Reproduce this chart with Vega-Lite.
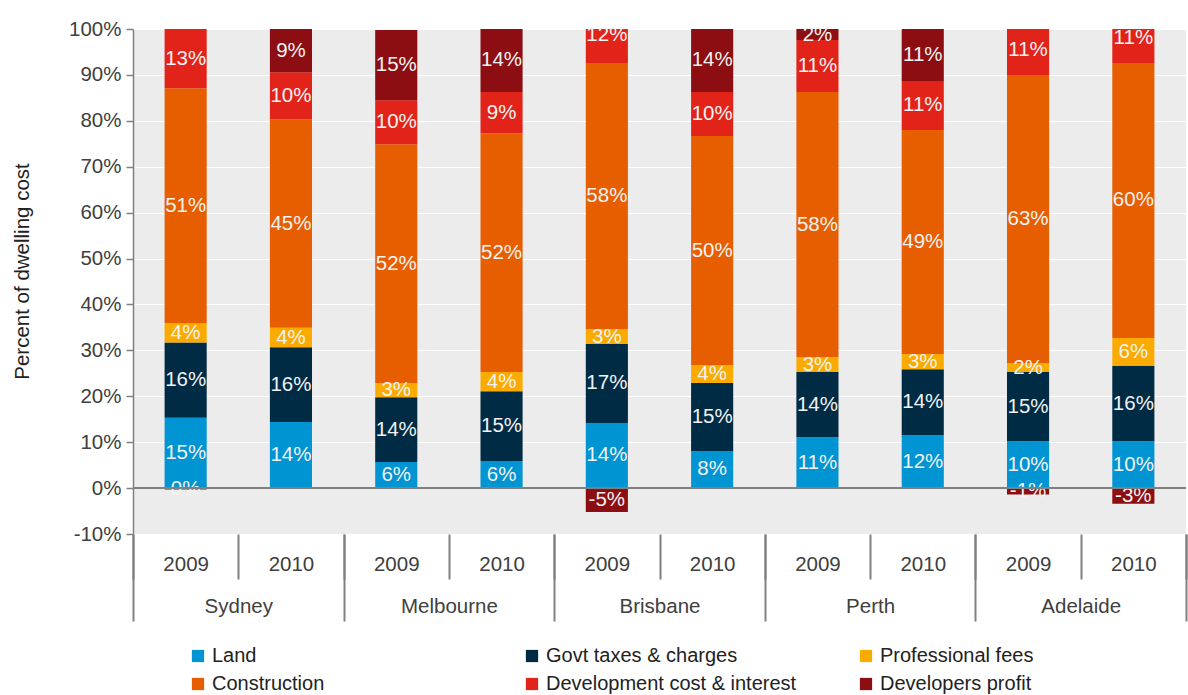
{
  "$schema": "https://vega.github.io/schema/vega-lite/v6.json",
  "width": 1053,
  "height": 505,
  "autosize": "none",
  "padding": {"left": 133, "top": 29, "right": 2, "bottom": 161},
  "background": "white",
  "config": {
    "font": "Liberation Sans",
    "view": {"fill": "#ececec", "stroke": null},
    "axis": {"labelFont": "Liberation Sans", "titleFont": "Liberation Sans"}
  },
  "data": {
    "values": [
      {"city": "Sydney", "year": "2009", "key": "Sydney 2009", "cat": "Land", "ord": 1, "value": 15.3},
      {"city": "Sydney", "year": "2009", "key": "Sydney 2009", "cat": "Govt taxes & charges", "ord": 2, "value": 16.4},
      {"city": "Sydney", "year": "2009", "key": "Sydney 2009", "cat": "Professional fees", "ord": 3, "value": 4.2},
      {"city": "Sydney", "year": "2009", "key": "Sydney 2009", "cat": "Construction", "ord": 4, "value": 51.2},
      {"city": "Sydney", "year": "2009", "key": "Sydney 2009", "cat": "Development cost & interest", "ord": 5, "value": 12.9},
      {"city": "Sydney", "year": "2009", "key": "Sydney 2009", "cat": "Developers profit", "ord": 6, "value": -0.3},
      {"city": "Sydney", "year": "2010", "key": "Sydney 2010", "cat": "Land", "ord": 1, "value": 14.4},
      {"city": "Sydney", "year": "2010", "key": "Sydney 2010", "cat": "Govt taxes & charges", "ord": 2, "value": 16.3},
      {"city": "Sydney", "year": "2010", "key": "Sydney 2010", "cat": "Professional fees", "ord": 3, "value": 4.2},
      {"city": "Sydney", "year": "2010", "key": "Sydney 2010", "cat": "Construction", "ord": 4, "value": 45.4},
      {"city": "Sydney", "year": "2010", "key": "Sydney 2010", "cat": "Development cost & interest", "ord": 5, "value": 10.3},
      {"city": "Sydney", "year": "2010", "key": "Sydney 2010", "cat": "Developers profit", "ord": 6, "value": 9.4},
      {"city": "Melbourne", "year": "2009", "key": "Melbourne 2009", "cat": "Land", "ord": 1, "value": 5.7},
      {"city": "Melbourne", "year": "2009", "key": "Melbourne 2009", "cat": "Govt taxes & charges", "ord": 2, "value": 14.1},
      {"city": "Melbourne", "year": "2009", "key": "Melbourne 2009", "cat": "Professional fees", "ord": 3, "value": 3.1},
      {"city": "Melbourne", "year": "2009", "key": "Melbourne 2009", "cat": "Construction", "ord": 4, "value": 52.0},
      {"city": "Melbourne", "year": "2009", "key": "Melbourne 2009", "cat": "Development cost & interest", "ord": 5, "value": 9.6},
      {"city": "Melbourne", "year": "2009", "key": "Melbourne 2009", "cat": "Developers profit", "ord": 6, "value": 15.3},
      {"city": "Melbourne", "year": "2010", "key": "Melbourne 2010", "cat": "Land", "ord": 1, "value": 5.9},
      {"city": "Melbourne", "year": "2010", "key": "Melbourne 2010", "cat": "Govt taxes & charges", "ord": 2, "value": 15.2},
      {"city": "Melbourne", "year": "2010", "key": "Melbourne 2010", "cat": "Professional fees", "ord": 3, "value": 4.2},
      {"city": "Melbourne", "year": "2010", "key": "Melbourne 2010", "cat": "Construction", "ord": 4, "value": 52.0},
      {"city": "Melbourne", "year": "2010", "key": "Melbourne 2010", "cat": "Development cost & interest", "ord": 5, "value": 9.0},
      {"city": "Melbourne", "year": "2010", "key": "Melbourne 2010", "cat": "Developers profit", "ord": 6, "value": 13.7},
      {"city": "Brisbane", "year": "2009", "key": "Brisbane 2009", "cat": "Land", "ord": 1, "value": 14.2},
      {"city": "Brisbane", "year": "2009", "key": "Brisbane 2009", "cat": "Govt taxes & charges", "ord": 2, "value": 17.2},
      {"city": "Brisbane", "year": "2009", "key": "Brisbane 2009", "cat": "Professional fees", "ord": 3, "value": 3.2},
      {"city": "Brisbane", "year": "2009", "key": "Brisbane 2009", "cat": "Construction", "ord": 4, "value": 58.0},
      {"city": "Brisbane", "year": "2009", "key": "Brisbane 2009", "cat": "Development cost & interest", "ord": 5, "value": 12.0},
      {"city": "Brisbane", "year": "2009", "key": "Brisbane 2009", "cat": "Developers profit", "ord": 6, "value": -5.2},
      {"city": "Brisbane", "year": "2010", "key": "Brisbane 2010", "cat": "Land", "ord": 1, "value": 8.1},
      {"city": "Brisbane", "year": "2010", "key": "Brisbane 2010", "cat": "Govt taxes & charges", "ord": 2, "value": 14.8},
      {"city": "Brisbane", "year": "2010", "key": "Brisbane 2010", "cat": "Professional fees", "ord": 3, "value": 3.9},
      {"city": "Brisbane", "year": "2010", "key": "Brisbane 2010", "cat": "Construction", "ord": 4, "value": 49.9},
      {"city": "Brisbane", "year": "2010", "key": "Brisbane 2010", "cat": "Development cost & interest", "ord": 5, "value": 9.6},
      {"city": "Brisbane", "year": "2010", "key": "Brisbane 2010", "cat": "Developers profit", "ord": 6, "value": 13.7},
      {"city": "Perth", "year": "2009", "key": "Perth 2009", "cat": "Land", "ord": 1, "value": 11.1},
      {"city": "Perth", "year": "2009", "key": "Perth 2009", "cat": "Govt taxes & charges", "ord": 2, "value": 14.2},
      {"city": "Perth", "year": "2009", "key": "Perth 2009", "cat": "Professional fees", "ord": 3, "value": 3.2},
      {"city": "Perth", "year": "2009", "key": "Perth 2009", "cat": "Construction", "ord": 4, "value": 57.8},
      {"city": "Perth", "year": "2009", "key": "Perth 2009", "cat": "Development cost & interest", "ord": 5, "value": 11.3},
      {"city": "Perth", "year": "2009", "key": "Perth 2009", "cat": "Developers profit", "ord": 6, "value": 2.4},
      {"city": "Perth", "year": "2010", "key": "Perth 2010", "cat": "Land", "ord": 1, "value": 11.5},
      {"city": "Perth", "year": "2010", "key": "Perth 2010", "cat": "Govt taxes & charges", "ord": 2, "value": 14.4},
      {"city": "Perth", "year": "2010", "key": "Perth 2010", "cat": "Professional fees", "ord": 3, "value": 3.3},
      {"city": "Perth", "year": "2010", "key": "Perth 2010", "cat": "Construction", "ord": 4, "value": 48.8},
      {"city": "Perth", "year": "2010", "key": "Perth 2010", "cat": "Development cost & interest", "ord": 5, "value": 10.7},
      {"city": "Perth", "year": "2010", "key": "Perth 2010", "cat": "Developers profit", "ord": 6, "value": 11.3},
      {"city": "Adelaide", "year": "2009", "key": "Adelaide 2009", "cat": "Land", "ord": 1, "value": 10.2},
      {"city": "Adelaide", "year": "2009", "key": "Adelaide 2009", "cat": "Govt taxes & charges", "ord": 2, "value": 15.1},
      {"city": "Adelaide", "year": "2009", "key": "Adelaide 2009", "cat": "Professional fees", "ord": 3, "value": 1.9},
      {"city": "Adelaide", "year": "2009", "key": "Adelaide 2009", "cat": "Construction", "ord": 4, "value": 62.8},
      {"city": "Adelaide", "year": "2009", "key": "Adelaide 2009", "cat": "Development cost & interest", "ord": 5, "value": 11.0},
      {"city": "Adelaide", "year": "2009", "key": "Adelaide 2009", "cat": "Developers profit", "ord": 6, "value": -1.4},
      {"city": "Adelaide", "year": "2010", "key": "Adelaide 2010", "cat": "Land", "ord": 1, "value": 10.2},
      {"city": "Adelaide", "year": "2010", "key": "Adelaide 2010", "cat": "Govt taxes & charges", "ord": 2, "value": 16.4},
      {"city": "Adelaide", "year": "2010", "key": "Adelaide 2010", "cat": "Professional fees", "ord": 3, "value": 6.1},
      {"city": "Adelaide", "year": "2010", "key": "Adelaide 2010", "cat": "Construction", "ord": 4, "value": 59.9},
      {"city": "Adelaide", "year": "2010", "key": "Adelaide 2010", "cat": "Development cost & interest", "ord": 5, "value": 11.0},
      {"city": "Adelaide", "year": "2010", "key": "Adelaide 2010", "cat": "Developers profit", "ord": 6, "value": -3.4}
    ]
  },
  "layer": [
    {
      "mark": {"type": "bar", "clip": true},
      "encoding": {
        "x": {
          "field": "key", "type": "nominal",
          "sort": ["Sydney 2009", "Sydney 2010", "Melbourne 2009", "Melbourne 2010", "Brisbane 2009", "Brisbane 2010", "Perth 2009", "Perth 2010", "Adelaide 2009", "Adelaide 2010"],
          "scale": {"type": "band", "paddingInner": 0.6, "paddingOuter": 0.3},
          "axis": null
        },
        "y": {
          "field": "value", "type": "quantitative", "stack": "zero",
          "scale": {"domain": [-10, 100], "nice": false, "zero": false},
          "axis": {
            "values": [-10, 0, 10, 20, 30, 40, 50, 60, 70, 80, 90, 100],
            "labelExpr": "datum.value + '%'",
            "title": "Percent of dwelling cost",
            "titleFontSize": 20.5, "titleFontWeight": "normal", "titleColor": "#222222", "titlePadding": 36, "titleY": 242,
            "labelFontSize": 20.5, "labelColor": "#404040", "labelPadding": 5,
            "domainColor": "#808080", "domainWidth": 1.5,
            "tickColor": "#808080", "tickSize": 7, "tickWidth": 1.5,
            "gridColor": "#ffffff", "gridWidth": 1.2
          }
        },
        "color": {
          "field": "cat", "type": "nominal",
          "scale": {
            "domain": ["Land", "Govt taxes & charges", "Professional fees", "Construction", "Development cost & interest", "Developers profit"],
            "range": ["#0094d3", "#002b45", "#fbab00", "#e75e00", "#e2231a", "#8c0e12"]
          },
          "legend": {
            "orient": "none", "legendX": 55, "legendY": 617, "direction": "horizontal", "columns": 3,
            "title": null, "symbolType": "square", "symbolSize": 150, "symbolStrokeWidth": 0,
            "labelFontSize": 20, "labelColor": "#222222", "labelFont": "Liberation Sans",
            "gridAlign": "all", "columnPadding": 59, "rowPadding": 8, "labelOffset": 4, "labelLimit": 400
          }
        },
        "order": {"field": "ord", "type": "quantitative"}
      }
    },
    {
      "mark": {"type": "text", "fontSize": 20.5, "color": "#f2f2f2", "baseline": "middle", "font": "Liberation Sans"},
      "encoding": {
        "x": {
          "field": "key", "type": "nominal",
          "sort": ["Sydney 2009", "Sydney 2010", "Melbourne 2009", "Melbourne 2010", "Brisbane 2009", "Brisbane 2010", "Perth 2009", "Perth 2010", "Adelaide 2009", "Adelaide 2010"],
          "scale": {"type": "point", "padding": 0.5},
          "axis": null
        },
        "y": {"field": "value", "type": "quantitative", "stack": "zero", "bandPosition": 0.5},
        "detail": {"field": "cat"},
        "order": {"field": "ord", "type": "quantitative"},
        "text": {"value": {"expr": "round(datum.value) + '%'"}}
      }
    },
    {
      "mark": {"type": "rule", "color": "#808080", "strokeWidth": 1.5},
      "encoding": {"y": {"datum": 0}}
    },
    {
      "mark": {"type": "rule", "opacity": 0},
      "encoding": {
        "x": {
          "field": "key", "type": "nominal",
          "sort": ["Sydney 2009", "Sydney 2010", "Melbourne 2009", "Melbourne 2010", "Brisbane 2009", "Brisbane 2010", "Perth 2009", "Perth 2010", "Adelaide 2009", "Adelaide 2010"],
          "scale": {"type": "band", "paddingInner": 0, "paddingOuter": 0},
          "axis": {
            "orient": "bottom", "title": null, "labelExpr": "split(datum.label, ' ')[1]",
            "tickBand": "extent", "tickSize": 45, "tickColor": "#808080", "tickWidth": 2,
            "domain": false, "grid": false, "labelPadding": -25, "labelFontSize": 20.5,
            "labelColor": "#404040", "labelAngle": 0, "labelBaseline": "top"
          }
        }
      }
    },
    {
      "mark": {"type": "rule", "opacity": 0},
      "encoding": {
        "x": {
          "field": "city", "type": "nominal",
          "sort": ["Sydney", "Melbourne", "Brisbane", "Perth", "Adelaide"],
          "scale": {"type": "band", "paddingInner": 0, "paddingOuter": 0},
          "axis": {
            "orient": "bottom", "title": null,
            "tickBand": "extent", "tickSize": 87, "tickColor": "#808080", "tickWidth": 2,
            "domain": false, "grid": false, "labelPadding": -25, "labelFontSize": 20.5,
            "labelColor": "#404040", "labelAngle": 0, "labelBaseline": "top"
          }
        }
      }
    }
  ],
  "resolve": {"scale": {"x": "independent"}, "axis": {"x": "independent"}}
}
